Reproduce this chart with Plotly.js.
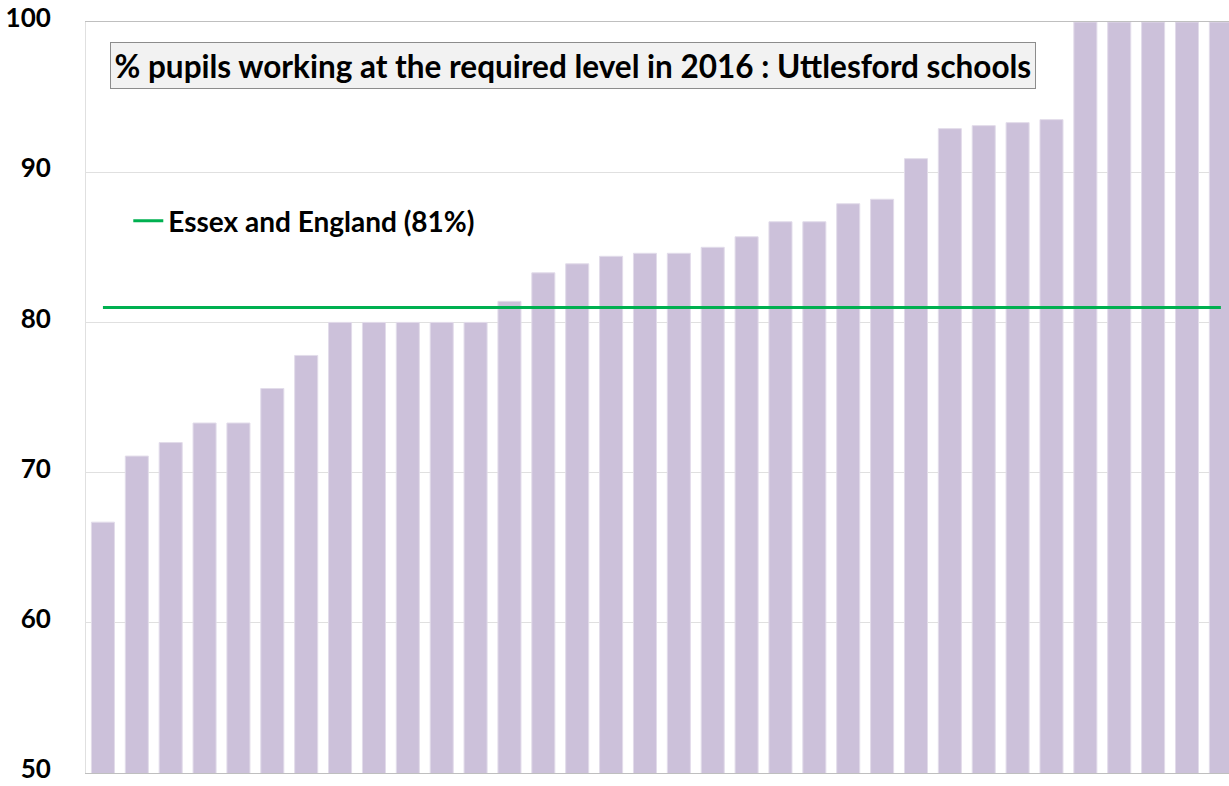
<!DOCTYPE html>
<html>
<head>
<meta charset="utf-8">
<script src="https://cdn.plot.ly/plotly-3.0.1.min.js"></script>
<style>html,body{margin:0;padding:0;background:#fff;}#chart{width:1229px;height:786px;}</style>
</head>
<body>
<div id="chart"></div>
<script>
const schools = ["School 1","School 2","School 3","School 4","School 5","School 6","School 7","School 8","School 9","School 10",
  "School 11","School 12","School 13","School 14","School 15","School 16","School 17","School 18","School 19","School 20",
  "School 21","School 22","School 23","School 24","School 25","School 26","School 27","School 28","School 29","School 30",
  "School 31","School 32","School 33","School 34"];
const pctRequired = [66.7, 71.1, 72.0, 73.3, 73.3, 75.6, 77.8, 80.0, 80.0, 80.0,
  80.0, 80.0, 81.4, 83.3, 83.9, 84.4, 84.6, 84.6, 85.0, 85.7,
  86.7, 86.7, 87.9, 88.2, 90.9, 92.9, 93.1, 93.3, 93.5, 100,
  100, 100, 100, 100];
const essexEnglandPct = 81;
const yTicks = [50, 60, 70, 80, 90, 100];
const chartTitle = "% pupils working at the required level in 2016 : Uttlesford schools";
const lineName = "Essex and England (81%)";

const FONT = "Lato, 'Open Sans', sans-serif";

const traces = [
  {
    type: "bar",
    x: schools,
    y: pctRequired,
    marker: {color: "#CCC1DA", line: {color: "#E2DCEA", width: 1}},
    showlegend: false,
    hoverinfo: "x+y"
  },
  {
    type: "scatter",
    mode: "lines",
    x: [schools[0], schools[schools.length - 1]],
    y: [essexEnglandPct, essexEnglandPct],
    name: lineName,
    line: {color: "#00B050", width: 3},
    showlegend: true
  }
];

const layout = {
  width: 1229,
  height: 786,
  margin: {l: 86, r: 0, t: 22, b: 13, pad: 0},
  paper_bgcolor: "#ffffff",
  plot_bgcolor: "#ffffff",
  font: {family: FONT, color: "#000000"},
  bargap: 0.32,
  xaxis: {
    type: "category",
    range: [-0.5, 33.24],
    showticklabels: false,
    ticks: "",
    showgrid: false,
    zeroline: false,
    showline: true,
    mirror: true,
    linecolor: "#BFBFBF",
    linewidth: 1
  },
  yaxis: {
    range: [50, 100],
    tickvals: yTicks,
    ticktext: yTicks.map(String),
    ticks: "",
    ticklabelstandoff: 29,
    ticklabelshift: -4,
    ticklabeloverflow: "allow",
    tickfont: {family: FONT, size: 26, color: "#000000", weight: "bold"},
    showgrid: true,
    gridcolor: "#E0E0E0",
    gridwidth: 1,
    zeroline: false,
    showline: true,
    linecolor: "#E0E0E0",
    linewidth: 1
  },
  showlegend: true,
  legend: {
    x: 0.037,
    y: 0.735,
    xanchor: "left",
    yanchor: "middle",
    bgcolor: "rgba(0,0,0,0)",
    borderwidth: 0,
    font: {family: FONT, size: 28, color: "#000000", weight: "bold"},
    itemwidth: 30
  },
  annotations: [
    {
      xref: "paper",
      yref: "paper",
      x: 0.426,
      y: 0.9415,
      xanchor: "center",
      yanchor: "middle",
      text: chartTitle,
      showarrow: false,
      font: {family: FONT, size: 31.5, color: "#000000", weight: "bold"},
      bgcolor: "#F2F2F2",
      bordercolor: "#8C8C8C",
      borderwidth: 1,
      borderpad: 3.5
    }
  ]
};

Plotly.newPlot("chart", traces, layout, {displayModeBar: false, staticPlot: true});
</script>
</body>
</html>
